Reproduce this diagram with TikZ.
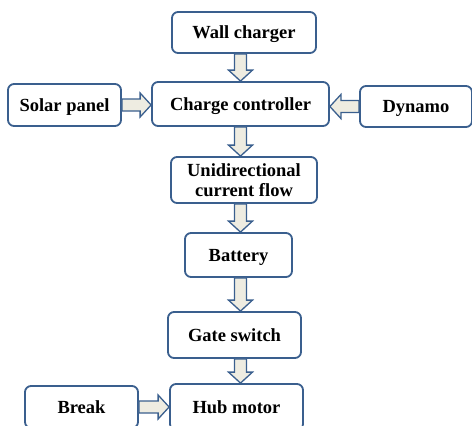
\documentclass[tikz,border=0pt]{standalone}
\usepackage{fontspec}
\setmainfont{Liberation Serif}
\usetikzlibrary{calc, positioning}

\definecolor{boxblue}{HTML}{3A5F8E}
\definecolor{flowfill}{HTML}{EEECE1}

\tikzset{
    unit/.style={draw=boxblue, line width=1.8pt, rounded corners=6pt, fill=white,
        align=center, inner sep=0pt, text depth=0pt,
        font=\fontsize{18.5}{20}\selectfont\bfseries},
    flowline/.style={draw=boxblue, fill=flowfill, line width=1.3pt, line join=miter},
}

% block arrow from #1 to #2
\newcommand{\flowarrow}[2]{%
    \coordinate (neck) at ($(#2)!11pt!(#1)$);
    \filldraw[flowline] ($(#1)!6pt!90:(#2)$) -- ($(neck)!6pt!90:(#2)$)
        -- ($(neck)!12pt!90:(#2)$) -- (#2) -- ($(neck)!12pt!-90:(#2)$)
        -- ($(neck)!6pt!-90:(#2)$) -- ($(#1)!6pt!-90:(#2)$) -- cycle;}

\begin{document}
\begin{tikzpicture}[x=1pt, y=-1pt]
    \useasboundingbox (0,0) rectangle (472,426);

    % --- blocks ---
    \node[unit, minimum width=144pt, minimum height=41pt] (wall) at (244,32.5) {Wall charger};
    \node[unit, minimum width=177pt, minimum height=44pt] (ctrl) at (240.5,104) {Charge controller};
    \node[unit, minimum width=113pt, minimum height=42pt] (solar) at (64.5,105) {Solar panel};
    \node[unit, minimum width=112pt, minimum height=41pt] (dynamo) at (416,106.5) {Dynamo};
    \node[unit, minimum width=146pt, minimum height=46pt] (uni) at (244,180) {Unidirectional\\current flow};
    \node[unit, minimum width=107pt, minimum height=44pt] (batt) at (238.5,255) {Battery};
    \node[unit, minimum width=133pt, minimum height=46pt] (gate) at (234.5,335) {Gate switch};
    \node[unit, minimum width=133pt, minimum height=46pt] (hub) at (236.5,407) {Hub motor};
    \node[unit, minimum width=113pt, minimum height=42pt] (brk) at (81.5,407) {Break};

    % --- block arrows ---
    \foreach \a/\b in {wall.south -| ctrl/ctrl.north,
                       ctrl.south/uni.north -| ctrl,
                       uni.south -| ctrl/batt.north -| ctrl,
                       batt.south -| ctrl/gate.north -| ctrl,
                       gate.south -| ctrl/hub.north -| ctrl,
                       solar.east/ctrl.west |- solar.east,
                       dynamo.west/ctrl.east |- dynamo.west,
                       brk.east/hub.west |- brk.east}
        \flowarrow{\a}{\b};
\end{tikzpicture}
\end{document}
